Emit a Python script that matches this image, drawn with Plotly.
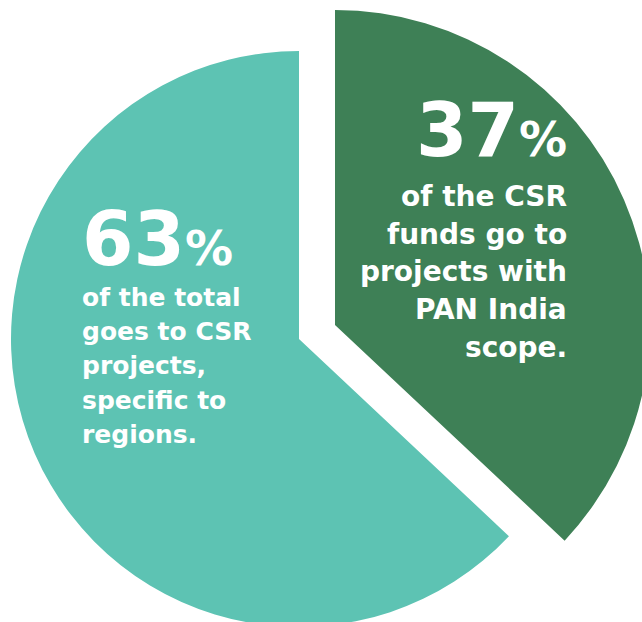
import plotly.graph_objects as go

labels = ["PAN India scope", "Specific to regions"]
values = [37, 63]
colors = ["#3E8056", "#5DC3B3"]
big_labels = ["37", "63"]
caption_pan_india = ["of the CSR", "funds go to", "projects with", "PAN India", "scope."]
caption_regions = ["of the total", "goes to CSR", "projects,", "specific to", "regions."]

W, H = 700, 700
def px(x):
    return x / W
def py(y):
    return 1 - y / H

clear = "rgba(0,0,0,0)"
fig = go.Figure()
# teal (63%) slice
fig.add_trace(go.Pie(
    labels=labels, values=values, sort=False, direction="clockwise", rotation=0,
    marker=dict(colors=[clear, colors[1]], line=dict(width=0)),
    textinfo="none", hoverinfo="label+percent", showlegend=False,
    domain=dict(x=[px(299 - 288), px(299 + 288)], y=[py(339 + 288), py(339 - 288)]),
))
# green (37%) slice, pulled out
fig.add_trace(go.Pie(
    labels=labels, values=values, sort=False, direction="clockwise", rotation=0,
    marker=dict(colors=[colors[0], clear], line=dict(width=0)),
    textinfo="none", hoverinfo="label+percent", showlegend=False,
    domain=dict(x=[px(335 - 315), px(335 + 315)], y=[py(325 + 315), py(325 - 315)]),
))

FONT = "DejaVu Sans"
NUM_FS = 74
PCT_FS = 48


def add_text(x, y, text, size, xanchor):
    fig.add_annotation(x=px(x), y=py(y), xref="paper", yref="paper",
                       xanchor=xanchor, yanchor="middle", showarrow=False,
                       text=text, align=xanchor, borderpad=0,
                       font=dict(family=FONT, size=size, color="white", weight="bold"))


def big(num):
    return num + "<span style='font-size:%dpx'>%%</span>" % PCT_FS


# ---- right block: 37% + caption ----
add_text(568, 156 - 0.346 * NUM_FS, big(big_labels[0]), NUM_FS, "right")
R_FS, R_BASE0, R_STEP = 28, 206, 37.7
for i, line in enumerate(caption_pan_india):
    add_text(568, R_BASE0 + i * R_STEP - 0.346 * R_FS, line, R_FS, "right")

# ---- left block: 63% + caption ----
add_text(81, 265 - 0.346 * NUM_FS, big(big_labels[1]), NUM_FS, "left")
L_FS, L_BASE0, L_STEP = 25, 306, 34.25
for i, line in enumerate(caption_regions):
    add_text(81, L_BASE0 + i * L_STEP - 0.346 * L_FS, line, L_FS, "left")

fig.update_layout(width=W, height=H, margin=dict(l=0, r=0, t=0, b=0),
                  paper_bgcolor="white", plot_bgcolor="white")

fig.write_html("out.html",
               post_script="document.body.style.margin='0';document.body.style.overflow='hidden';")
